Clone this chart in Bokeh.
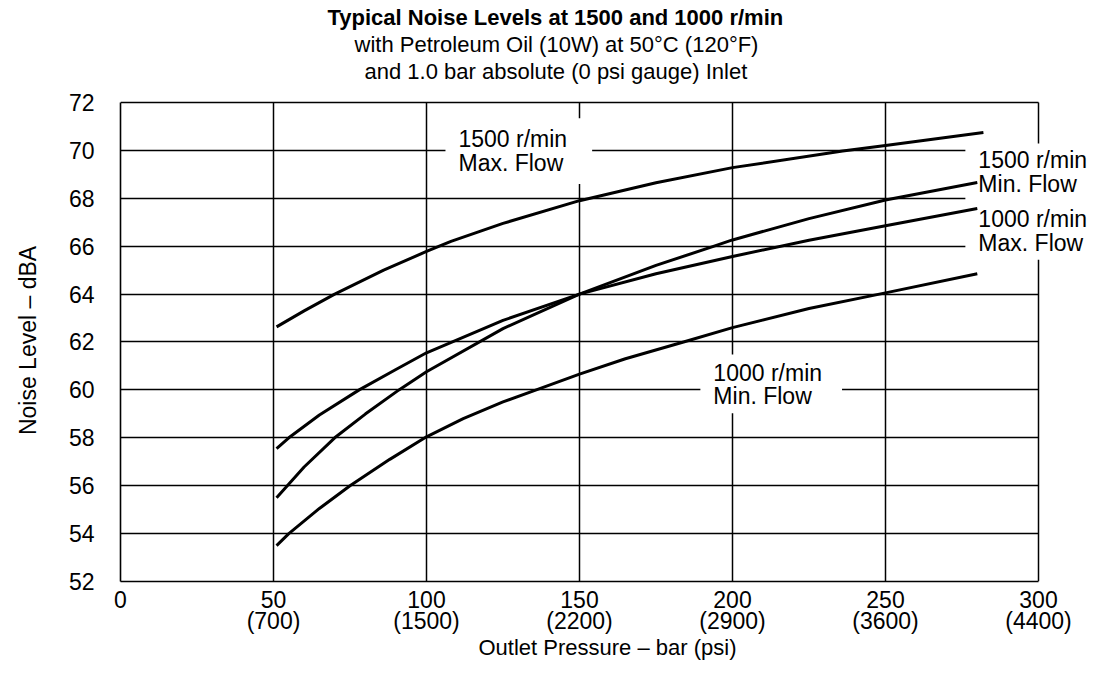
from bokeh.plotting import figure
from bokeh.models import Range1d, FixedTicker, Label, Title, Grid
from bokeh.embed import file_html
from bokeh.resources import INLINE

# ---- data ----
pressure_1500_max = [51, 60, 70, 86, 100, 108, 125, 150, 175, 200, 236, 250, 282]
noise_1500_max = [62.63, 63.3, 64.0, 65.0, 65.78, 66.2, 66.95, 67.9, 68.65, 69.28, 69.97, 70.2, 70.75]

pressure_1500_min = [51, 60, 70, 80, 91, 100, 125, 150, 175, 194, 200, 225, 250, 280]
noise_1500_min = [55.5, 56.78, 58.0, 58.99, 60.0, 60.76, 62.56, 64.0, 65.2, 66.0, 66.26, 67.15, 67.93, 68.66]

pressure_1000_max = [51, 55, 65, 78, 90, 100, 125, 150, 175, 200, 225, 250, 280]
noise_1000_max = [57.55, 58.0, 58.95, 60.0, 60.85, 61.55, 62.9, 64.0, 64.85, 65.57, 66.25, 66.85, 67.57]

pressure_1000_min = [51, 55, 65, 75, 88, 100, 112, 125, 137, 150, 165, 184, 200, 225, 250, 280]
noise_1000_min = [53.5, 54.0, 55.05, 56.0, 57.1, 58.04, 58.8, 59.5, 60.05, 60.66, 61.3, 62.0, 62.6, 63.4, 64.05, 64.85]

x_ticks = [0, 50, 100, 150, 200, 250, 300]
x_tick_labels = ["0", "50\n(700)", "100\n(1500)", "150\n(2200)", "200\n(2900)", "250\n(3600)", "300\n(4400)"]
y_ticks = [52, 54, 56, 58, 60, 62, 64, 66, 68, 70, 72]

title_lines = ["Typical Noise Levels at 1500 and 1000 r/min",
               "with Petroleum Oil (10W) at 50°C (120°F)",
               "and 1.0 bar absolute (0 psi gauge) Inlet"]
x_label = "Outlet Pressure – bar (psi)"
y_label = "Noise Level – dBA"

FONT = "Liberation Sans"
X_END = 318.3      # room on the right for the curve labels
Y_END = 72.124     # a few px above the top border

p = figure(width=1094, height=663, x_range=Range1d(0, X_END), y_range=Range1d(52, Y_END),
           output_backend="svg", toolbar_location=None,
           min_border_left=120, min_border_right=0, min_border_top=99, min_border_bottom=81)
p.title.visible = False
p.background_fill_color = "white"
p.border_fill_color = "white"
p.outline_line_color = None

# axes (their lines form the left and bottom borders)
for ax in (p.xaxis[0], p.yaxis[0]):
    ax.axis_line_color = "black"
    ax.axis_line_width = 1.6
    ax.major_tick_line_color = None
    ax.minor_tick_line_color = None
    ax.major_tick_in = 0
    ax.major_tick_out = 0
    ax.major_label_text_font = FONT
    ax.major_label_text_font_size = "23px"
    ax.major_label_text_color = "black"
    ax.axis_label_text_font = FONT
    ax.axis_label_text_font_style = "normal"
    ax.axis_label_text_color = "black"

p.xaxis.bounds = (x_ticks[0], x_ticks[-1])
p.xaxis.ticker = FixedTicker(ticks=x_ticks)
p.xaxis.major_label_overrides = {t: s for t, s in zip(x_ticks, x_tick_labels)}
p.xaxis.major_label_standoff = 5
p.xaxis.major_label_text_line_height = 0.84
p.xaxis.axis_label = x_label
p.xaxis.axis_label_text_font_size = "22px"
p.xaxis.axis_label_standoff = -2

p.yaxis.bounds = (y_ticks[0], y_ticks[-1])
p.yaxis.ticker = FixedTicker(ticks=y_ticks)
p.yaxis.major_label_standoff = 26
p.yaxis.axis_label = y_label
p.yaxis.axis_label_text_font_size = "23px"
p.yaxis.axis_label_standoff = 25

# grid (also gives the top and right borders)
GRID_W = 1.5
if "cross_bounds" in Grid.properties():
    p.xgrid.ticker = FixedTicker(ticks=x_ticks[1:])
    p.xgrid.bounds = (x_ticks[0], X_END)
    p.xgrid.cross_bounds = (y_ticks[0], y_ticks[-1])
    p.ygrid.ticker = FixedTicker(ticks=y_ticks[1:])
    p.ygrid.bounds = (y_ticks[0], Y_END)
    p.ygrid.cross_bounds = (x_ticks[0], x_ticks[-1])
    for g in (p.xgrid[0], p.ygrid[0]):
        g.grid_line_color = "black"
        g.grid_line_width = GRID_W
        g.grid_line_alpha = 1.0
else:
    p.xgrid.visible = False
    p.ygrid.visible = False
    vx = x_ticks[1:]
    hy = y_ticks[1:]
    p.segment(x0=vx, y0=[y_ticks[0]] * len(vx), x1=vx, y1=[y_ticks[-1]] * len(vx),
              line_color="black", line_width=GRID_W, level="image")
    p.segment(x0=[x_ticks[0]] * len(hy), y0=hy, x1=[x_ticks[-1]] * len(hy), y1=hy,
              line_color="black", line_width=GRID_W, level="image")

# curves
for xs, ys in ((pressure_1500_max, noise_1500_max),
               (pressure_1500_min, noise_1500_min),
               (pressure_1000_max, noise_1000_max),
               (pressure_1000_min, noise_1000_min)):
    p.line(xs, ys, line_color="black", line_width=3, line_join="round")

# curve labels with white boxes (painted under the curves, over the grid)
def curve_label(x, y, text, pad):
    lab = Label(x=x, y=y, text=text, text_font=FONT, text_font_size="23px",
                text_align="left", text_baseline="middle", text_line_height=0.915,
                text_color="black", background_fill_color="white",
                padding=pad, level="underlay")
    p.add_layout(lab)

curve_label(106.2, 69.97, "1500 r/min\nMax. Flow", dict(left=13, right=25, top=8, bottom=8))
curve_label(189.5, 60.25, "1000 r/min\nMin. Flow", dict(left=13, right=20, top=5, bottom=4))
curve_label(276.1, 69.06, "1500 r/min\nMin. Flow", dict(left=13, right=15, top=4, bottom=5))
curve_label(276.1, 66.66, "1000 r/min\nMax. Flow", dict(left=13, right=15, top=5, bottom=4))

# title lines (stacked above the frame; later ones sit further out)
def add_title(text, size, style, offset):
    p.add_layout(Title(text=text, text_font=FONT, text_font_size=size, text_font_style=style,
                       align="left", offset=offset, standoff=0, text_color="black"), "above")

add_title(" ", "12px", "normal", 0)
add_title(title_lines[2], "22px", "normal", 244)
add_title(title_lines[1], "22px", "normal", 234)
add_title(title_lines[0], "22px", "bold", 207)

open("out.html", "w").write(file_html(p, INLINE))
